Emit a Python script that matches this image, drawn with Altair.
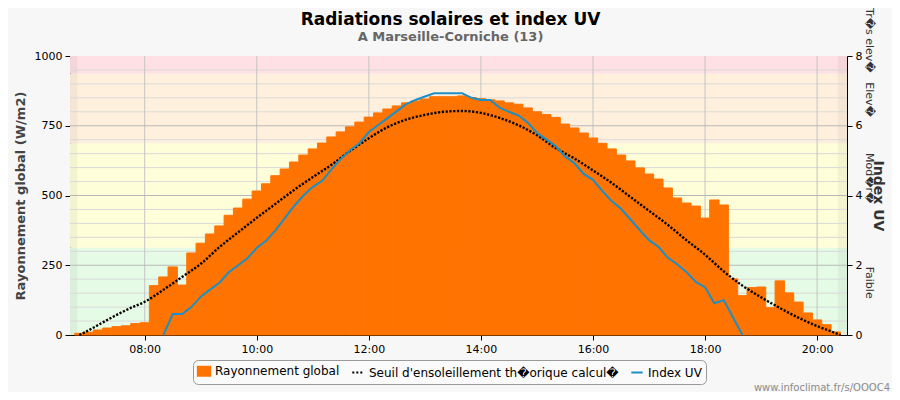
import altair as alt
import pandas as pd

W, H = 777, 279


def tmin(s):
    h, m = s.split(":")
    return int(h) * 60 + int(m)


# ---- data -------------------------------------------------------------
S_BAR = "Rayonnement global"
S_THEO = "Seuil d'ensoleillement th\ufffdorique calcul\ufffd"
S_UV = "Index UV"
series_names = [S_BAR, S_THEO, S_UV]

bar_start = "06:50"   # bars every 10 minutes, centred on the time
bar_step = 10
bar_values = [6, 10, 18, 25, 30, 33, 41, 44, 177, 208,
              244, 179, 294, 329, 362, 391, 429, 455, 487, 516,
              542, 571, 595, 620, 645, 667, 688, 710, 728, 746,
              763, 781, 796, 810, 821, 832, 839, 846, 854, 854,
              854, 857, 851, 847, 843, 839, 832, 827, 814, 800,
              790, 780, 756, 742, 724, 706, 687, 667, 645, 624,
              599, 577, 559, 527, 491, 473, 462, 419, 484, 466,
              201, 141, 170, 172, 98, 194, 151, 118, 79, 54,
              37, 11]

theo_times = ["06:50", "07:00", "07:15", "07:30", "07:45", "08:00", "08:20", "08:40",
              "09:00", "09:20", "09:40", "10:00", "10:20", "10:40", "11:00", "11:20",
              "11:40", "12:00", "12:20", "12:40", "13:00", "13:20", "13:40", "14:00",
              "14:20", "14:40", "15:00", "15:20", "15:40", "16:00", "16:20", "16:40",
              "17:00", "17:20", "17:40", "18:00", "18:20", "18:40", "19:00", "19:20",
              "19:40", "20:00", "20:15", "20:25"]
theo_values = [0, 17, 45, 72, 97, 119, 162, 208,
               255, 315, 368, 420, 470, 520, 566, 610,
               660, 705, 745, 772, 789, 800, 803, 796,
               778, 752, 716, 670, 633, 590, 545, 495,
               445, 395, 340, 288, 228, 177, 135, 97,
               62, 32, 13, 0]

uv_times = ["08:20", "08:30", "08:40", "08:50", "09:00", "09:10", "09:20", "09:30",
            "09:40", "09:50", "10:00", "10:10", "10:20", "10:30", "10:40", "10:50",
            "11:00", "11:10", "11:20", "11:30", "11:40", "11:50", "12:00", "12:10",
            "12:20", "12:30", "12:40", "12:50", "13:00", "13:10", "13:20", "13:30",
            "13:40", "13:50", "14:00", "14:10", "14:20", "14:30", "14:40", "14:50",
            "15:00", "15:10", "15:20", "15:30", "15:40", "15:50", "16:00", "16:10",
            "16:20", "16:30", "16:40", "16:50", "17:00", "17:10", "17:20", "17:30",
            "17:40", "17:50", "18:00", "18:10", "18:20", "18:30", "18:40"]
uv_values = [0.0, 0.6, 0.6, 0.8, 1.1, 1.3, 1.5, 1.8,
             2.0, 2.2, 2.5, 2.7, 3.0, 3.35, 3.7, 4.0,
             4.25, 4.42, 4.75, 5.05, 5.3, 5.5, 5.82, 6.02,
             6.22, 6.42, 6.62, 6.74, 6.84, 6.93, 6.93, 6.93,
             6.93, 6.8, 6.74, 6.74, 6.52, 6.4, 6.3, 6.09,
             5.8, 5.61, 5.42, 5.12, 4.93, 4.62, 4.45, 4.13,
             3.84, 3.62, 3.32, 3.01, 2.72, 2.53, 2.22, 2.03,
             1.81, 1.52, 1.37, 0.91, 1.0, 0.5, 0.0]

band_names = ["Faible", "Modere", "Eleve", "Tres eleve"]
band_lo = [0, 312.5, 687.5, 937.5]
band_hi = [312.5, 687.5, 937.5, 1000]
band_colors = ["#E5FBE5", "#FEFED9", "#FFF0DE", "#FFE0E4"]

uv_label_text = ["Faible", "Mod\ufffdr\ufffd", "Elev\ufffd", "Tr\ufffds elev\ufffd"]
uv_label_pos = [1.5, 4.5, 6.75, 8.45]

night_start = ["06:40", "20:22"]
night_end = ["06:48", "20:32"]

x_domain = ["06:40", "20:32"]
x_ticks = ["08:00", "10:00", "12:00", "14:00", "16:00", "18:00", "20:00"]
y_ticks = [0, 250, 500, 750, 1000]
y_minor = [50, 100, 150, 200, 300, 350, 400, 450, 550, 600, 650, 700, 800, 850, 900, 950]
y_major = [250, 500, 750]
uv_ticks = [0, 2, 4, 6, 8]

footer = "www.infoclimat.fr/s/OOOC4"

# ---- tables -----------------------------------------------------------
t0 = tmin(bar_start)
bars = pd.DataFrame({
    "t": [t0 + bar_step * i for i in range(len(bar_values))],
    "v": bar_values,
})
bars["a"] = bars["t"] - bar_step / 2
bars["b"] = bars["t"] + bar_step / 2
bars["z"] = 0

theo = pd.DataFrame({"t": [tmin(s) for s in theo_times], "v": theo_values})
uv = pd.DataFrame({"t": [tmin(s) for s in uv_times], "uv": uv_values})
bands = pd.DataFrame({"band": band_names, "lo": band_lo, "hi": band_hi})
night = pd.DataFrame({"a": [tmin(s) for s in night_start], "b": [tmin(s) for s in night_end]})
labels = pd.DataFrame({"txt": uv_label_text, "uv": uv_label_pos})
vgrid = pd.DataFrame({"t": [tmin(s) for s in x_ticks]})
hminor = pd.DataFrame({"v": y_minor})
hmajor = pd.DataFrame({"v": y_major})
foot = pd.DataFrame({"txt": [footer]})
legend_df = pd.DataFrame({"series": series_names})

xd = [tmin(s) for s in x_domain]
xscale = alt.Scale(domain=xd, nice=False, zero=False)
yscale = alt.Scale(domain=[0, 1000], nice=False)
uvscale = alt.Scale(domain=[0, 8], nice=False)

FONT = "DejaVu Sans"
BLUE = "#1B8FC6"
ORANGE = "#FF7400"

# legend symbol for the bars: stacked strokes that merge into a solid block
BLOCK = "M-1.25,-0.8H1.25M-1.25,-0.6H1.25M-1.25,-0.4H1.25M-1.25,-0.2H1.25M-1.25,0H1.25" \
        "M-1.25,0.2H1.25M-1.25,0.4H1.25M-1.25,0.6H1.25M-1.25,0.8H1.25"

leg = alt.Legend(
    title=None, orient="none", legendX=123, legendY=304, direction="horizontal",
    strokeColor="#9a9a9a", fillColor="#FAFAFA", cornerRadius=5, padding=4,
    labelFontSize=12, labelColor="#000000", labelLimit=400, labelFont=FONT,
    symbolSize=130, columnPadding=8, symbolStrokeWidth=2, symbolOpacity=1,
)

xaxis = alt.Axis(
    values=[tmin(s) for s in x_ticks],
    labelExpr="(datum.value < 600 ? '0' : '') + floor(datum.value / 60) + ':00'",
    grid=False, title=None, domainColor="#000", tickColor="#000", tickSize=5,
    labelFontSize=11, labelColor="#000", labelFont=FONT, labelPadding=3)

yaxis = alt.Axis(
    values=y_ticks, format="d", grid=False, title="Rayonnement global (W/m2)",
    titleFontSize=13, titleFontWeight="bold", titleColor="#444444", titleFont=FONT,
    titlePadding=7, domainColor="#000", tickColor="#000", tickSize=5,
    labelFontSize=11, labelColor="#000", labelFont=FONT, labelPadding=3)

uvaxis = alt.Axis(
    orient="right", values=uv_ticks, grid=False, title="Index UV",
    titleFontSize=14, titleFontWeight="bold", titleColor="#333333", titleFont=FONT,
    titlePadding=9, domainColor="#000", tickColor="#000", tickSize=5,
    labelFontSize=11, labelColor="#000", labelFont=FONT, labelPadding=3)

band_layer = alt.Chart(bands).mark_rect().encode(
    x=alt.value(0), x2=alt.value(W),
    y=alt.Y("lo:Q", scale=yscale, axis=yaxis), y2="hi:Q",
    fill=alt.Fill("band:N", scale=alt.Scale(domain=band_names, range=band_colors), legend=None),
)
night_layer = alt.Chart(night).mark_rect(color="#000000", opacity=0.045).encode(
    x=alt.X("a:Q", scale=xscale, axis=xaxis), x2="b:Q", y=alt.value(0), y2=alt.value(H))
minor_layer = alt.Chart(hminor).mark_rule(color="#d9d9d9", strokeWidth=1).encode(
    y=alt.Y("v:Q", scale=yscale, axis=yaxis))
vgrid_layer = alt.Chart(vgrid).mark_rule(color="#c4c4c4", strokeWidth=1).encode(
    x=alt.X("t:Q", scale=xscale, axis=xaxis))
major_layer = alt.Chart(hmajor).mark_rule(color="#b8b8b8", strokeWidth=1).encode(
    y=alt.Y("v:Q", scale=yscale, axis=yaxis))

bar_layer = alt.Chart(bars).mark_rect(color=ORANGE, stroke=ORANGE, strokeWidth=1).encode(
    x=alt.X("a:Q", scale=xscale, axis=xaxis), x2="b:Q",
    y=alt.Y("v:Q", scale=yscale, axis=yaxis), y2="z:Q",
)

theo_layer = alt.Chart(theo).mark_line(
    color="#000000", strokeWidth=2.4, strokeDash=[2.2, 1.6], interpolate="monotone"
).encode(
    x=alt.X("t:Q", scale=xscale, axis=xaxis),
    y=alt.Y("v:Q", scale=yscale, axis=yaxis),
)

left = alt.layer(band_layer, night_layer, minor_layer, vgrid_layer, major_layer, bar_layer, theo_layer)

uv_layer = alt.Chart(uv).mark_line(color=BLUE, strokeWidth=2).encode(
    x=alt.X("t:Q", scale=xscale, axis=xaxis),
    y=alt.Y("uv:Q", scale=uvscale, axis=uvaxis),
)
label_layer = alt.Chart(labels).mark_text(
    angle=90, align="center", baseline="middle", fontSize=11, font=FONT, color="#333333"
).encode(
    x=alt.value(799),
    y=alt.Y("uv:Q", scale=uvscale, axis=uvaxis),
    text="txt:N",
)
foot_layer = alt.Chart(foot).mark_text(
    align="right", baseline="alphabetic", fontSize=10, font=FONT, color="#8a8a8a"
).encode(x=alt.value(820), y=alt.value(335), text="txt:N")

# legend carrier: point marks placed off the drawing, only their legend is seen
legend_layer = alt.Chart(legend_df).mark_point(filled=False).encode(
    x=alt.value(-3000), y=alt.value(H / 2),
    stroke=alt.Stroke("series:N", scale=alt.Scale(domain=series_names,
                                                  range=[ORANGE, "#000000", BLUE]), legend=leg),
    shape=alt.Shape("series:N", scale=alt.Scale(domain=series_names,
                                                range=[BLOCK, "stroke", "stroke"]), legend=leg),
    strokeDash=alt.StrokeDash("series:N", scale=alt.Scale(domain=series_names,
                                                          range=[[1, 0], [2, 2], [1, 0]]), legend=leg),
)

right = alt.layer(uv_layer, label_layer, foot_layer, legend_layer)

chart = alt.layer(left, right).resolve_scale(y="independent").properties(
    width=W, height=H,
    title=alt.Title(
        "Radiations solaires et index UV",
        subtitle="A Marseille-Corniche (13)",
        fontSize=17, fontWeight="bold", font=FONT, color="#000000",
        subtitleFontSize=13, subtitleFontWeight="bold", subtitleFont=FONT,
        subtitleColor="#666666", subtitlePadding=2, anchor="middle", dx=-8, frame="group",
        offset=-37,
    ),
    autosize=alt.AutoSizeParams(type="none"),
    padding={"left": 62, "top": 48, "right": 45, "bottom": 57},
    background="#F7F7F7",
).configure_view(stroke=None).configure(font=FONT)

chart.save("out.html", embed_options={"renderer": "svg", "actions": False})
